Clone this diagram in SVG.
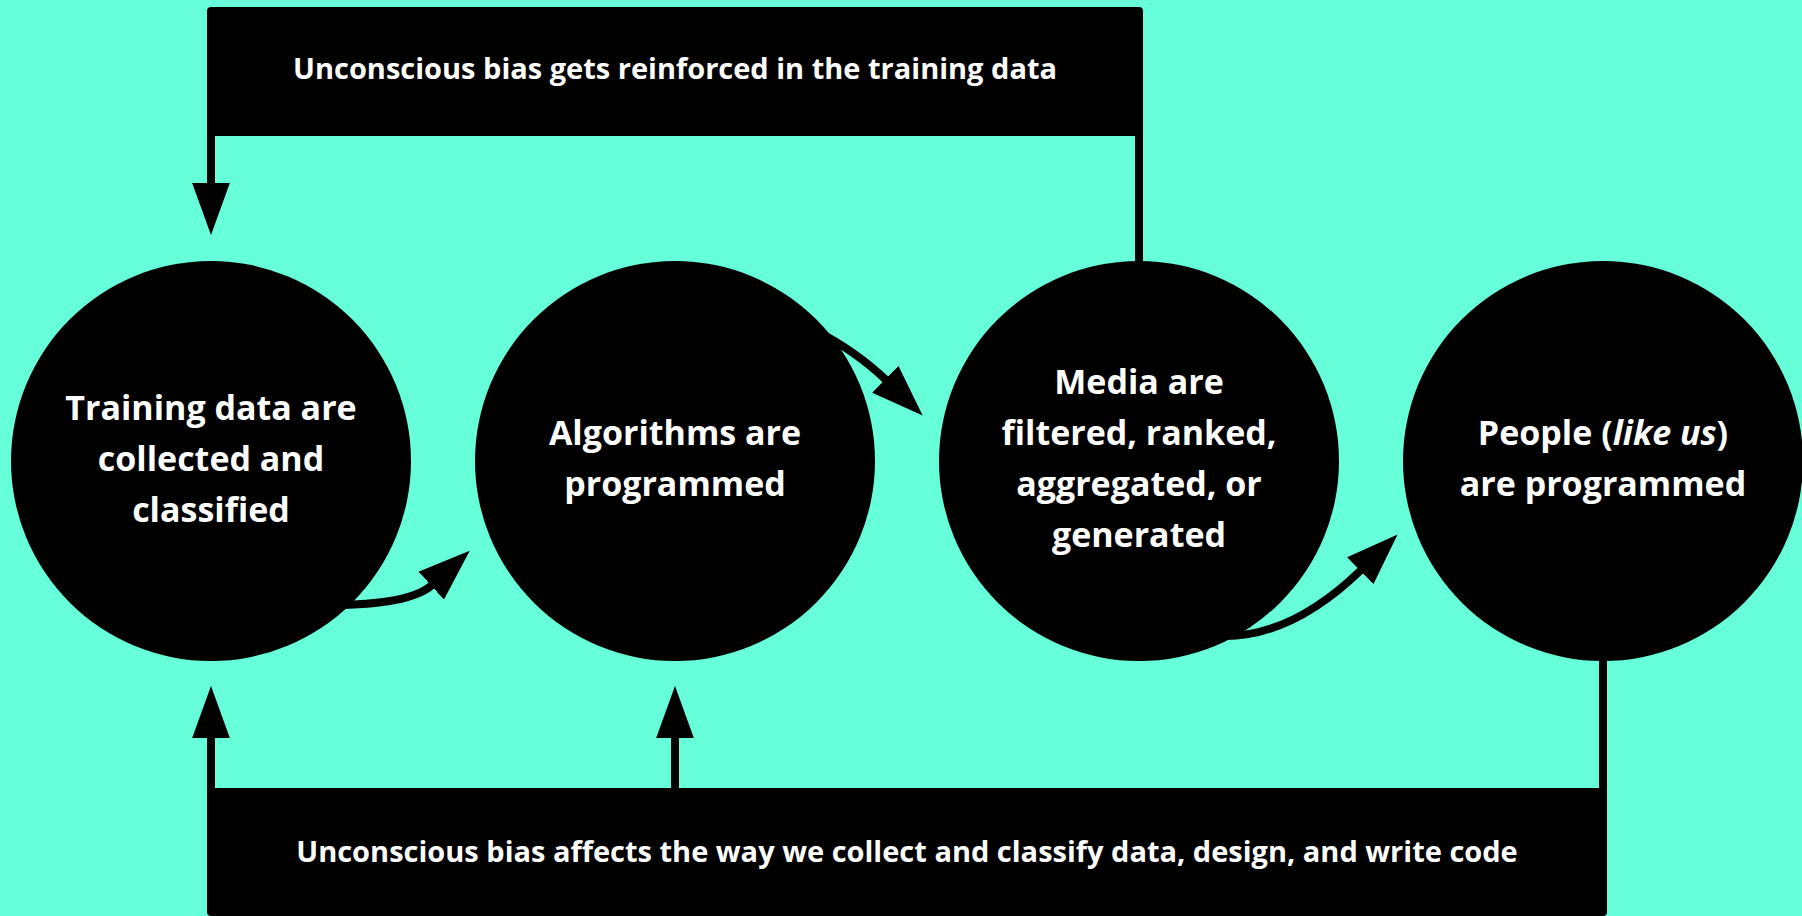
<svg xmlns="http://www.w3.org/2000/svg" width="1802" height="916" viewBox="0 0 1802 916">
  <style>
    .circ { fill: #000; }
    .box { fill: #000; }
    .lbl { font-family: "Open Sans", "Liberation Sans", sans-serif; font-weight: 700; fill: #fff; text-anchor: middle; }
    .node { font-size: 34px; }
    .band { font-size: 29px; }
    .wire { fill: none; stroke: #000; stroke-width: 8; }
  </style>
  <defs>
    <marker id="ah" markerUnits="userSpaceOnUse" markerWidth="52" markerHeight="38" viewBox="0 0 51 37" refX="1" refY="18.5" orient="auto">
      <path d="M0,0 L51,18.5 L0,37 Z" fill="#000"/>
    </marker>
  </defs>
  <rect x="0" y="0" width="1802" height="916" fill="#67FFD9"/>

  <g id="connectors">
    <line class="wire" x1="211" y1="130" x2="211" y2="184" marker-end="url(#ah)"/>
    <line class="wire" x1="1139" y1="130" x2="1139" y2="270"/>
    <line class="wire" x1="1603" y1="650" x2="1603" y2="795"/>
    <line class="wire" x1="211" y1="795" x2="211" y2="737" marker-end="url(#ah)"/>
    <line class="wire" x1="675" y1="795" x2="675" y2="737" marker-end="url(#ah)"/>
    <path class="wire" d="M330 605 Q410 605 432 585" marker-end="url(#ah)"/>
    <path class="wire" d="M815 330 Q857 352 886 380" marker-end="url(#ah)"/>
    <path class="wire" d="M1225 636 Q1293 636 1361 570" marker-end="url(#ah)"/>
  </g>

  <g id="top-band">
    <rect class="box" x="207" y="7" width="936" height="129" rx="4"/>
    <text class="lbl band" x="675" y="79">Unconscious bias gets reinforced in the training data</text>
  </g>

  <g id="bottom-band">
    <rect class="box" x="207" y="788" width="1400" height="128" rx="4"/>
    <text class="lbl band" x="907" y="862">Unconscious bias affects the way we collect and classify data, design, and write code</text>
  </g>

  <g id="training-data">
    <circle class="circ" cx="211" cy="461" r="200"/>
    <text class="lbl node" x="211" y="420">Training data are</text>
    <text class="lbl node" x="211" y="471">collected and</text>
    <text class="lbl node" x="211" y="522">classified</text>
  </g>

  <g id="algorithms">
    <circle class="circ" cx="675" cy="461" r="200"/>
    <text class="lbl node" x="675" y="445">Algorithms are</text>
    <text class="lbl node" x="675" y="496">programmed</text>
  </g>

  <g id="media">
    <circle class="circ" cx="1139" cy="461" r="200"/>
    <text class="lbl node" x="1139" y="394">Media are</text>
    <text class="lbl node" x="1139" y="445">filtered, ranked,</text>
    <text class="lbl node" x="1139" y="496">aggregated, or</text>
    <text class="lbl node" x="1139" y="547">generated</text>
  </g>

  <g id="people">
    <circle class="circ" cx="1603" cy="461" r="200"/>
    <text class="lbl node" x="1603" y="445">People (<tspan font-style="italic">like us</tspan>)</text>
    <text class="lbl node" x="1603" y="496">are programmed</text>
  </g>
</svg>
